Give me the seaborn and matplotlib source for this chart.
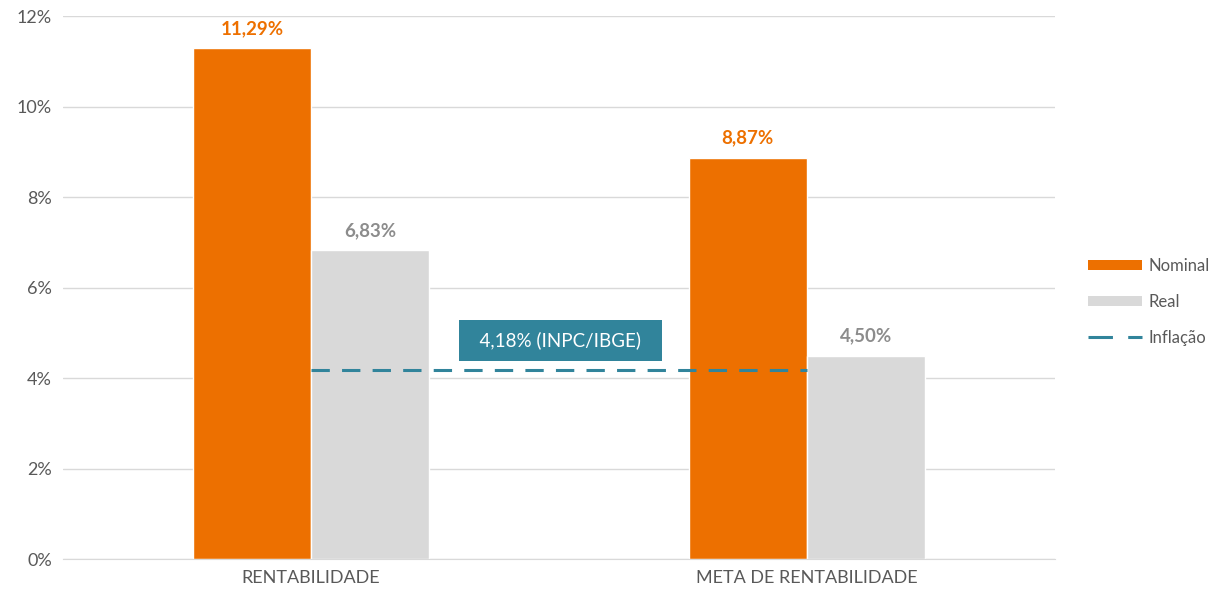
import pandas as pd
import seaborn as sns
import matplotlib.pyplot as plt
from matplotlib.patches import Patch
from matplotlib.lines import Line2D

# dados
categorias = ["RENTABILIDADE", "META DE RENTABILIDADE"]
nominal = [11.29, 8.87]
real = [6.83, 4.50]
inflacao = 4.18
rotulo_inflacao = "4,18% (INPC/IBGE)"

laranja = "#ED7000"
cinza = "#D9D9D9"
azul = "#31849B"
texto = "#595959"

df = pd.DataFrame({
    "categoria": categorias * 2,
    "serie": ["Nominal"] * 2 + ["Real"] * 2,
    "valor": nominal + real,
})

sns.set_style("white")
plt.rcParams["font.family"] = ["Lato", "DejaVu Sans"]

fig = plt.figure(figsize=(12.23, 6), dpi=100)
ax = fig.add_axes([0.0515, 0.068, 0.811, 0.905])

sns.barplot(data=df, x="categoria", y="valor", hue="serie",
            palette=[laranja, cinza], width=0.477, gap=0,
            saturation=1, legend=False, ax=ax)

# rótulos de valor
for cont, cor in zip(ax.containers, [laranja, "#8C8C8C"]):
    ax.bar_label(cont, labels=[f"{v:.2f}%".replace(".", ",") for v in cont.datavalues],
                 padding=8, color=cor, fontsize=13.5, fontweight="bold")

# linha de inflação
ax.plot([0, 1], [inflacao, inflacao], color=azul, lw=2.2, dashes=(6, 4), zorder=5)
ax.text(0.503, 4.84, "  " + rotulo_inflacao + "  ", ha="center", va="center",
        color="white", fontsize=13.5,
        bbox=dict(boxstyle="square,pad=0.62", fc=azul, ec="none"))

ax.set_ylim(0, 12)
ax.set_xlim(-0.5, 1.5)
ax.set_yticks(range(0, 13, 2))
ax.set_yticklabels([f"{v}%" for v in range(0, 13, 2)])
ax.yaxis.grid(True, color="#D9D9D9", lw=1)
ax.set_axisbelow(True)
ax.set_xlabel("")
ax.set_ylabel("")
ax.tick_params(axis="both", colors=texto, labelsize=13, length=0, pad=8)
for s in ["top", "right", "left"]:
    ax.spines[s].set_visible(False)
ax.spines["bottom"].set_color("#D9D9D9")

handles = [Patch(fc=laranja, ec="none"), Patch(fc=cinza, ec="none"),
           Line2D([], [], color=azul, lw=2.2, dashes=(8, 5))]
fig.legend(handles, ["Nominal", "Real", "Inflação"], loc="center left",
           bbox_to_anchor=(0.89, 0.497), frameon=False, fontsize=12,
           labelcolor=texto, handlelength=3.2, handleheight=0.6,
           labelspacing=1.2, handletextpad=0.4, borderpad=0, borderaxespad=0)

fig.savefig("out.png", dpi=100)
